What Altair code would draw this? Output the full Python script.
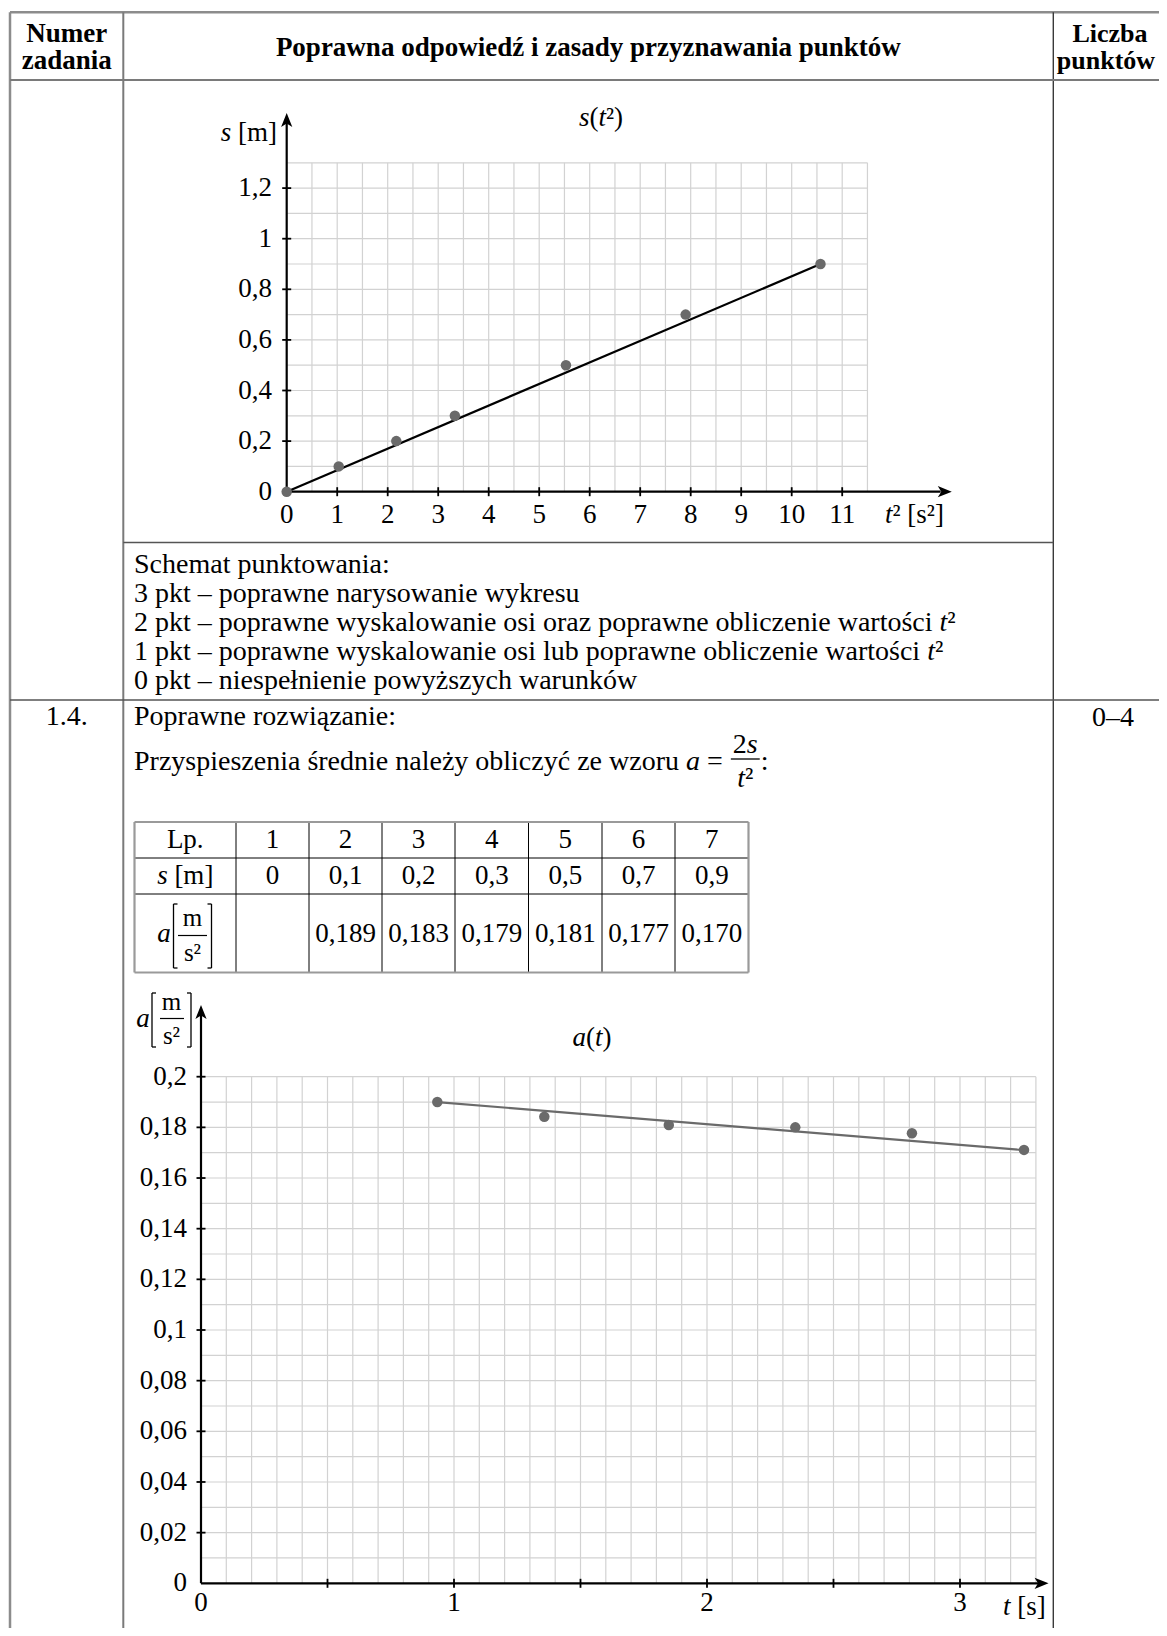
import altair as alt
import pandas as pd

FONT = "Liberation Serif"
OFF = 8.0
W_CHART, H_CHART = 1151, 1620

# ---------------- data ----------------
t2_vals = [0.0, 1.03, 2.17, 3.33, 5.53, 7.90, 10.57]
s_vals = [0.0, 0.1, 0.2, 0.3, 0.5, 0.7, 0.9]
s_fit_t2 = [0.0, 10.57]
s_fit_s = [0.0, 0.90]

t_vals = [0.934, 1.357, 1.849, 2.349, 2.810, 3.253]
a_vals = [0.1900, 0.1842, 0.1809, 0.1800, 0.1777, 0.1711]
a_fit_t = [0.934, 3.253]
a_fit_a = [0.1900, 0.1710]

top_x_label_vals = list(range(0, 12))
top_x_labels = [str(v) for v in top_x_label_vals]
top_x_tick_vals = list(range(1, 12))
top_y_label_vals = [0, 0.2, 0.4, 0.6, 0.8, 1.0, 1.2]
top_y_labels = ["0", "0,2", "0,4", "0,6", "0,8", "1", "1,2"]
top_y_tick_vals = [0.2, 0.4, 0.6, 0.8, 1.0, 1.2]

bot_x_tick_vals = [0.5, 1.0, 1.5, 2.0, 2.5, 3.0]
bot_x_label_vals = [0, 1, 2, 3]
bot_x_labels = ["0", "1", "2", "3"]
bot_y_label_vals = [0, 0.02, 0.04, 0.06, 0.08, 0.10, 0.12, 0.14, 0.16, 0.18, 0.20]
bot_y_labels = ["0", "0,02", "0,04", "0,06", "0,08", "0,1", "0,12", "0,14", "0,16", "0,18", "0,2"]
bot_y_tick_vals = bot_y_label_vals[1:]

table_lp = ["Lp.", "1", "2", "3", "4", "5", "6", "7"]
table_s = ["0", "0,1", "0,2", "0,3", "0,5", "0,7", "0,9"]
table_a = ["", "0,189", "0,183", "0,179", "0,181", "0,177", "0,170"]

# ---------------- styling ----------------
GRID = "#d2d2d2"
PT = "#6a6a6a"
BODY = 28
TICK = 27
HEAD = 27
TAB = 27

W_REG = {' ': 250, '!': 333, '(': 333, ')': 333, ',': 250, '-': 333, '.': 250, ':': 278, '=': 564,
         '[': 333, ']': 333, '–': 500, '²': 300,
         'A': 722, 'B': 667, 'C': 667, 'D': 722, 'E': 611, 'F': 556, 'G': 722, 'H': 722, 'I': 333,
         'J': 389, 'K': 722, 'L': 611, 'M': 889, 'N': 722, 'O': 722, 'P': 556, 'Q': 722, 'R': 667,
         'S': 556, 'T': 611, 'U': 722, 'V': 722, 'W': 944, 'X': 722, 'Y': 722, 'Z': 611,
         'a': 444, 'b': 500, 'c': 444, 'd': 500, 'e': 444, 'f': 333, 'g': 500, 'h': 500, 'i': 278,
         'j': 278, 'k': 500, 'l': 278, 'm': 778, 'n': 500, 'o': 500, 'p': 500, 'q': 500, 'r': 333,
         's': 389, 't': 278, 'u': 500, 'v': 500, 'w': 722, 'x': 500, 'y': 500, 'z': 444,
         'ą': 444, 'ć': 444, 'ę': 444, 'ł': 278, 'ń': 500, 'ó': 500, 'ś': 389, 'ź': 444, 'ż': 444}
for d in "0123456789":
    W_REG[d] = 500
W_BOLD = {' ': 250, 'P': 611, 'L': 667, 'N': 722, 'a': 500, 'b': 556, 'c': 444, 'd': 556, 'e': 444,
          'i': 278, 'k': 556, 'm': 833, 'n': 556, 'o': 500, 'p': 556, 'r': 444, 's': 389, 't': 333,
          'u': 556, 'w': 722, 'y': 500, 'z': 444, 'ź': 444, 'ó': 500}
W_IT = {'a': 500, 's': 389, 't': 278}

ONE = pd.DataFrame({"k": [0]})


def tw(text, size, st="r"):
    tab = {"r": W_REG, "b": W_BOLD, "i": W_IT}[st]
    return sum(tab.get(c, W_REG.get(c, 500)) for c in text) * size / 1000.0


def T(text, x, y, size, weight="normal", style="normal", align="left", color="black"):
    return alt.Chart(ONE).mark_text(
        text=text, font=FONT, fontSize=size, fontWeight=weight, fontStyle=style,
        align=align, baseline="middle", color=color
    ).encode(x=alt.value(x - OFF), y=alt.value(y - OFF))


def rich(segs, x, y, size, align="left"):
    widths = [tw(t, size, st) for t, st in segs]
    total = sum(widths)
    if align == "center":
        x0 = x - total / 2
    elif align == "right":
        x0 = x - total
    else:
        x0 = x
    out = []
    for (t, st), w in zip(segs, widths):
        lead = len(t) - len(t.lstrip(" "))
        vis = t.strip(" ")
        if vis:
            out.append(T(vis, x0 + lead * W_REG[" "] * size / 1000.0, y, size,
                         weight="bold" if st == "b" else "normal",
                         style="italic" if st == "i" else "normal"))
        x0 += w
    return out


def hline(y, x1, x2, color="black", w=1.0):
    return alt.Chart(ONE).mark_rule(color=color, strokeWidth=w).encode(
        x=alt.value(x1 - OFF), x2=alt.value(x2 - OFF), y=alt.value(y - OFF))


def vline(x, y1, y2, color="black", w=1.0):
    return alt.Chart(ONE).mark_rule(color=color, strokeWidth=w).encode(
        x=alt.value(x - OFF), y=alt.value(y1 - OFF), y2=alt.value(y2 - OFF))


def bracket(xl, xr, yt, yb, serif=4.0, w=1.3):
    return [vline(xl, yt, yb, w=w), hline(yt, xl, xl + serif, w=w), hline(yb, xl, xl + serif, w=w),
            vline(xr, yt, yb, w=w), hline(yt, xr - serif, xr, w=w), hline(yb, xr - serif, xr, w=w)]


def lin(d0, d1, p0, p1):
    return alt.Scale(domain=[d0, d1], range=[p0 - OFF, p1 - OFF], nice=False, zero=False)


def QX(f, sc):
    return alt.X(f, type="quantitative", scale=sc, axis=None)


def QY(f, sc):
    return alt.Y(f, type="quantitative", scale=sc, axis=None)


def grid_v(vals, y0, y1, xs, ys, color=GRID, w=1.2):
    df = pd.DataFrame({"g": vals, "ya": [y0] * len(vals), "yb": [y1] * len(vals)})
    return alt.Chart(df).mark_rule(color=color, strokeWidth=w).encode(
        x=QX("g", xs), y=QY("ya", ys), y2="yb:Q")


def grid_h(vals, x0, x1, xs, ys, color=GRID, w=1.2):
    df = pd.DataFrame({"g": vals, "xa": [x0] * len(vals), "xb": [x1] * len(vals)})
    return alt.Chart(df).mark_rule(color=color, strokeWidth=w).encode(
        y=QY("g", ys), x=QX("xa", xs), x2="xb:Q")


ARROW_R = "M0,0 L-2,-0.8 L-1.5,0 L-2,0.8 Z"
ARROW_U = "M0,0 L-0.8,2 L0,1.5 L0.8,2 Z"


def arrow(xv, yv, xs, ys, shape, size=196):
    df = pd.DataFrame({"ax": [xv], "ay": [yv]})
    return alt.Chart(df).mark_point(shape=shape, size=size, filled=True, color="black",
                                    opacity=1, strokeWidth=0).encode(x=QX("ax", xs), y=QY("ay", ys))


def ticks_x(vals, xs, ypix, half=4.5, w=1.8):
    df = pd.DataFrame({"v": vals})
    return alt.Chart(df).mark_rule(color="black", strokeWidth=w).encode(
        x=QX("v", xs), y=alt.value(ypix - OFF - half), y2=alt.value(ypix - OFF + half))


def ticks_y(vals, ys, xpix, half=4.5, w=1.8):
    df = pd.DataFrame({"v": vals})
    return alt.Chart(df).mark_rule(color="black", strokeWidth=w).encode(
        y=QY("v", ys), x=alt.value(xpix - OFF - half), x2=alt.value(xpix - OFF + half))


def labels_x(vals, labs, xs, ypix, size):
    df = pd.DataFrame({"v": vals, "lab": labs})
    return alt.Chart(df).mark_text(font=FONT, fontSize=size, align="center", baseline="middle",
                                   color="black").encode(
        x=QX("v", xs), y=alt.value(ypix - OFF), text=alt.Text("lab:N"))


def labels_y(vals, labs, ys, xpix, size):
    df = pd.DataFrame({"v": vals, "lab": labs})
    return alt.Chart(df).mark_text(font=FONT, fontSize=size, align="right", baseline="middle",
                                   color="black").encode(
        y=QY("v", ys), x=alt.value(xpix - OFF), text=alt.Text("lab:N"))


PXS = alt.Scale(domain=[0, W_CHART], range=[0, W_CHART], nice=False, zero=False)
PYS = alt.Scale(domain=[0, H_CHART], range=[0, H_CHART], nice=False, zero=False)


def cell_texts(xlist, y, texts, size):
    df = pd.DataFrame({"cx": [x - OFF for x in xlist], "cy": [y - OFF] * len(xlist), "lab": texts})
    return alt.Chart(df).mark_text(font=FONT, fontSize=size, align="center", baseline="middle",
                                   color="black").encode(
        x=QX("cx", PXS), y=QY("cy", PYS), text=alt.Text("lab:N"))


layers = []

# ---------------- outer table frame ----------------
FRAME = "#8c8c8c"
X_L, X_C1, X_C2, X_R = 10.0, 123.3, 1053.3, 1170.0
Y_T, Y_H, Y_R2, Y_R3, Y_B = 12.3, 80.0, 542.5, 700.0, 1640.0
layers += [
    hline(Y_T, X_L, X_R, FRAME, 2.5),
    vline(X_L, Y_T, Y_B, FRAME, 2.5),
    vline(X_C1, Y_T, Y_B, "#7a7a7a", 2.0),
    vline(X_C2, Y_T, Y_B, "#3a3a3a", 1.4),
    hline(Y_H, X_L, X_R, "#7a7a7a", 2.0),
    hline(Y_R2, X_C1, X_C2, "#555555", 1.5),
    hline(Y_R3, X_L, X_R, "#555555", 1.5),
]

# header
layers += [
    T("Numer", 66.7, 34, HEAD, weight="bold", align="center"),
    T("zadania", 66.7, 61, HEAD, weight="bold", align="center"),
    T("Poprawna odpowiedź i zasady przyznawania punktów", (X_C1 + X_C2) / 2, 47.5, HEAD,
      weight="bold", align="center"),
    T("Liczba", 1110, 34, 26, weight="bold", align="center"),
    T("punktów", 1106, 61, 26, weight="bold", align="center"),
]

# ---------------- top chart s(t^2) ----------------
TX = lin(0, 11.5, 286.7, 286.7 + 11.5 * 50.5)
TY = lin(0, 1.3, 491.7, 491.7 - 1.3 * 253)
layers += [
    grid_v([0.5 * i for i in range(1, 24)], 0, 1.3, TX, TY),
    grid_h([0.1 * i for i in range(1, 14)], 0, 11.5, TX, TY),
    grid_h([0], 0, 12.95, TX, TY, color="black", w=2.2),
    grid_v([0], 0, 1.46, TX, TY, color="black", w=2.2),
    arrow(13.17, 0, TX, TY, ARROW_R),
    arrow(0, 1.497, TX, TY, ARROW_U),
    ticks_x(top_x_tick_vals, TX, 491.7),
    ticks_y(top_y_tick_vals, TY, 286.7),
    labels_x(top_x_label_vals, top_x_labels, TX, 515, TICK),
    labels_y(top_y_label_vals, top_y_labels, TY, 272, TICK),
    alt.Chart(pd.DataFrame({"x": s_fit_t2, "y": s_fit_s})).mark_line(
        color="black", strokeWidth=2.2).encode(x=QX("x", TX), y=QY("y", TY)),
    alt.Chart(pd.DataFrame({"x": t2_vals, "y": s_vals})).mark_circle(
        color=PT, size=110, opacity=1).encode(x=QX("x", TX), y=QY("y", TY)),
]
layers += rich([("s", "i"), ("(", "r"), ("t", "i"), ("²)", "r")], 601, 118, TICK, align="center")
layers += rich([("s", "i"), (" [m]", "r")], 277, 133, TICK, align="right")
layers += rich([("t", "i"), ("² [s²]", "r")], 885, 515, TICK, align="left")

# ---------------- scoring scheme ----------------
TXT_X = 134.0
layers += [
    T("Schemat punktowania:", TXT_X, 565, BODY),
    T("3 pkt – poprawne narysowanie wykresu", TXT_X, 594, BODY),
]
layers += rich([("2 pkt – poprawne wyskalowanie osi oraz poprawne obliczenie wartości ", "r"),
                ("t", "i"), ("²", "r")], TXT_X, 623, BODY)
layers += rich([("1 pkt – poprawne wyskalowanie osi lub poprawne obliczenie wartości ", "r"),
                ("t", "i"), ("²", "r")], TXT_X, 652, BODY)
layers += [T("0 pkt – niespełnienie powyższych warunków", TXT_X, 681, BODY)]

# ---------------- task 1.4 ----------------
layers += [
    T("1.4.", 66.7, 717, BODY, align="center"),
    T("0–4", 1113, 718, BODY, align="center"),
    T("Poprawne rozwiązanie:", TXT_X, 717, BODY),
]
main_segs = [("Przyspieszenia średnie należy obliczyć ze wzoru ", "r"), ("a", "i"), (" = ", "r")]
layers += rich(main_segs, TXT_X, 762, BODY)
x_after = TXT_X + sum(tw(t, BODY, st) for t, st in main_segs)
num_w = tw("2", BODY) + tw("s", BODY, "i")
den_w = tw("t", BODY, "i") + tw("²", BODY)
bw = max(num_w, den_w) + 4
fx = x_after + 1 + bw / 2
layers += rich([("2", "r"), ("s", "i")], fx, 745, BODY, align="center")
layers += [hline(759, fx - bw / 2, fx + bw / 2, "black", 1.3)]
layers += rich([("t", "i"), ("²", "r")], fx, 779, BODY, align="center")
layers += [T(":", fx + bw / 2 + 1, 762, BODY)]

# small data table
COLS = [134.5, 236, 309, 382, 455, 528.5, 602, 675, 748.5]
ROWS = [822, 858, 894, 972.5]
centers = [(COLS[i] + COLS[i + 1]) / 2 for i in range(8)]
TAB_FRAME = "#9a9a9a"
for xc in COLS[1:-1]:
    layers.append(vline(xc, ROWS[0], ROWS[-1], "black", 1.0))
for yr in ROWS[1:-1]:
    layers.append(hline(yr, COLS[0], COLS[-1], "black", 1.0))
layers += [
    hline(ROWS[0], COLS[0], COLS[-1], TAB_FRAME, 2.2),
    hline(ROWS[-1], COLS[0], COLS[-1], TAB_FRAME, 2.2),
    vline(COLS[0], ROWS[0], ROWS[-1], TAB_FRAME, 2.2),
    vline(COLS[-1], ROWS[0], ROWS[-1], TAB_FRAME, 2.2),
]
layers.append(cell_texts(centers, 840, table_lp, TAB))
layers += rich([("s", "i"), (" [m]", "r")], centers[0], 876, TAB, align="center")
layers.append(cell_texts(centers[1:], 876, table_s, TAB))
layers.append(cell_texts(centers[1:], 934, table_a, TAB))
# a [m/s^2] label in the table
layers += [T("a", 164, 934, TAB, style="italic", align="center")]
layers += bracket(173.5, 211.5, 904, 968)
layers += [T("m", 192.5, 918, TAB - 2, align="center"),
           hline(935.5, 178, 207, "black", 1.2),
           T("s²", 192.5, 953, TAB - 2, align="center")]

# ---------------- bottom chart a(t) ----------------
BX = lin(0, 3.3, 201, 201 + 3.3 * 253)
BY = lin(0, 0.2, 1583.3, 1583.3 - 0.2 * 2533)
layers += [
    grid_v([0.1 * i for i in range(1, 34)], 0, 0.2, BX, BY),
    grid_h([0.01 * i for i in range(1, 21)], 0, 3.3, BX, BY),
    grid_h([0], 0, 3.315, BX, BY, color="black", w=2.2),
    grid_v([0], 0, 0.2247, BX, BY, color="black", w=2.2),
    arrow(3.35, 0, BX, BY, ARROW_R),
    arrow(0, 0.2283, BX, BY, ARROW_U),
    ticks_x(bot_x_tick_vals, BX, 1583.3),
    ticks_y(bot_y_tick_vals, BY, 201),
    labels_x(bot_x_label_vals, bot_x_labels, BX, 1603, TICK),
    labels_y(bot_y_label_vals, bot_y_labels, BY, 187, TICK),
    alt.Chart(pd.DataFrame({"x": a_fit_t, "y": a_fit_a})).mark_line(
        color=PT, strokeWidth=2.2).encode(x=QX("x", BX), y=QY("y", BY)),
    alt.Chart(pd.DataFrame({"x": t_vals, "y": a_vals})).mark_circle(
        color=PT, size=110, opacity=1).encode(x=QX("x", BX), y=QY("y", BY)),
]
layers += rich([("a", "i"), ("(", "r"), ("t", "i"), (")", "r")], 592, 1038, TICK, align="center")
layers += rich([("t", "i"), (" [s]", "r")], 1003, 1607, TICK, align="left")
# y label a [m/s^2]
layers += [T("a", 143, 1019, TICK, style="italic", align="center")]
layers += bracket(152, 191, 993, 1047)
layers += [T("m", 171.5, 1002, TICK - 2, align="center"),
           hline(1018.5, 160, 184, "black", 1.2),
           T("s²", 171.5, 1036, TICK - 2, align="center")]

chart = alt.layer(*layers).resolve_scale(x="independent", y="independent").properties(
    width=W_CHART, height=H_CHART, padding=0,
    autosize=alt.AutoSizeParams(type="none"), background="white"
).configure_view(stroke=None)

chart.save("out.html", embed_options={"renderer": "svg", "actions": False})
